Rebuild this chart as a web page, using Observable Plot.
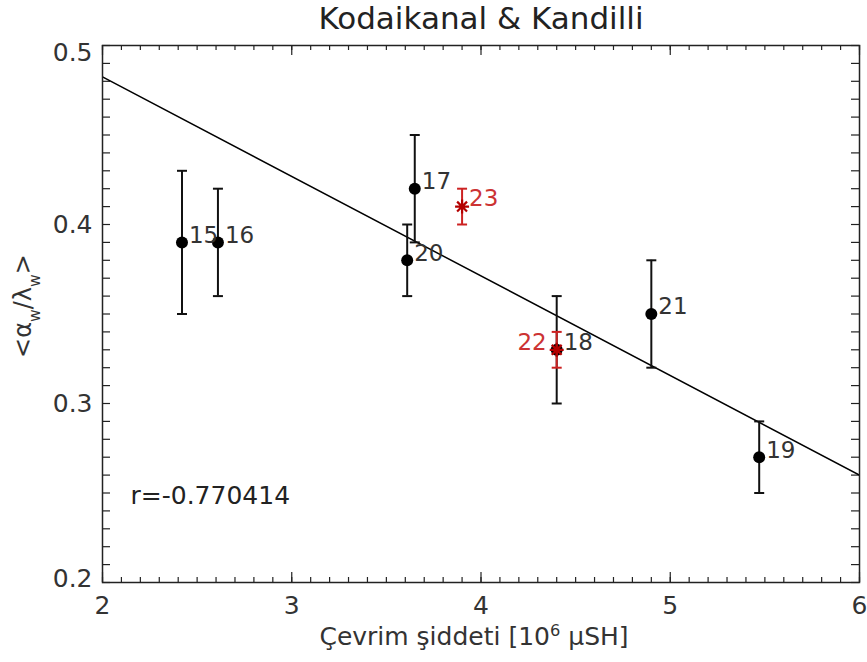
<!DOCTYPE html>
<html>
<head>
<meta charset="utf-8">
<script src="https://cdn.jsdelivr.net/npm/d3@7"></script>
<script src="https://cdn.jsdelivr.net/npm/@observablehq/plot@0.6"></script>
<style>
  html, body { margin: 0; padding: 0; background: #fff; }
  svg { font-family: "DejaVu Sans", sans-serif; }
</style>
</head>
<body>
<div id="chart"></div>
<script>
// ---- data ----
const cycles   = ["15", "16", "17", "18", "19", "20", "21"];
const strength = [2.42, 2.61, 3.65, 4.40, 5.47, 3.61, 4.90];
const ratio    = [0.39, 0.39, 0.42, 0.33, 0.27, 0.38, 0.35];
const errLow   = [0.35, 0.36, 0.39, 0.30, 0.25, 0.36, 0.32];
const errHigh  = [0.43, 0.42, 0.45, 0.36, 0.29, 0.40, 0.38];

const redCycles   = ["22", "23"];
const redStrength = [4.40, 3.90];
const redRatio    = [0.33, 0.41];
const redLow      = [0.32, 0.40];
const redHigh     = [0.34, 0.42];

const fitX = [2, 6];
const fitY = [0.4825, 0.26];

const xTicks = [2, 3, 4, 5, 6];
const yTicks = [0.2, 0.3, 0.4, 0.5];
const titleText = "Kodaikanal & Kandilli";
const xLabel = "Çevrim şiddeti [106 µSH]";
const yLabel = "<αw/λw>";
const rText = "r=-0.770414";

// ---- build ----
const W = 867, H = 662;
const mT = 45, mB = 80, mL = 102, mR = 8;
const innerW = W - mL - mR, innerH = H - mT - mB;
const xDomain = [2, 6], yDomain = [0.2, 0.5];

const black = cycles.map((c, i) => ({c, x: strength[i], y: ratio[i], lo: errLow[i], hi: errHigh[i]}));
const red = redCycles.map((c, i) => ({c, x: redStrength[i], y: redRatio[i], lo: redLow[i], hi: redHigh[i]}));
const fit = fitX.map((x, i) => ({x, y: fitY[i]}));

const xMinor = d3.range(20, 61).map(d => d / 10);
const yMinor = d3.range(20, 51).map(d => d / 100);

const capSymbol = {
  draw(context, size) {
    const r = Math.sqrt(size / Math.PI);
    context.moveTo(-r, 0);
    context.lineTo(r, 0);
  }
};
const starSymbol = {
  draw(context, size) {
    const r = Math.sqrt(size / Math.PI);
    const q = r * Math.SQRT1_2;
    context.moveTo(0, -r); context.lineTo(0, r);
    context.moveTo(-r, 0); context.lineTo(r, 0);
    context.moveTo(-q, -q); context.lineTo(q, q);
    context.moveTo(-q, q); context.lineTo(q, -q);
  }
};

const ink = "#222";
const redMark = "#b40000";
const redText = "#cc3333";
const fsTick = 25, fsLab = 23;

const chart = Plot.plot({
  width: W, height: H,
  marginTop: mT, marginBottom: mB, marginLeft: mL, marginRight: mR,
  style: {fontFamily: "DejaVu Sans, sans-serif", background: "#fff"},
  x: {domain: xDomain, axis: null},
  y: {domain: yDomain, axis: null},
  marks: [
    // ticks
    Plot.tickX(xMinor, {x: d => d, insetTop: innerH - 5, stroke: ink, strokeWidth: 1.2}),
    Plot.tickX(xMinor, {x: d => d, insetBottom: innerH - 5, stroke: ink, strokeWidth: 1.2}),
    Plot.tickX(xTicks, {x: d => d, insetTop: innerH - 10, stroke: ink, strokeWidth: 1.2}),
    Plot.tickX(xTicks, {x: d => d, insetBottom: innerH - 10, stroke: ink, strokeWidth: 1.2}),
    Plot.tickY(yMinor, {y: d => d, insetRight: innerW - 8, stroke: ink, strokeWidth: 1.2}),
    Plot.tickY(yMinor, {y: d => d, insetLeft: innerW - 8, stroke: ink, strokeWidth: 1.2}),
    // tick labels
    Plot.text(xTicks, {x: d => d, frameAnchor: "bottom", dy: 31, text: d => String(d), fontSize: fsTick, fill: "#333"}),
    Plot.text(yTicks.filter(d => d !== yDomain[0] && d !== yDomain[1]), {y: d => d, frameAnchor: "left", dx: -10, textAnchor: "end", text: d => d.toFixed(1), fontSize: fsTick, fill: "#333"}),
    Plot.text(yTicks.filter(d => d === yDomain[1]), {y: d => d, frameAnchor: "left", dx: -10, textAnchor: "end", lineAnchor: "top", dy: -2, text: d => d.toFixed(1), fontSize: fsTick, fill: "#333"}),
    Plot.text(yTicks.filter(d => d === yDomain[0]), {y: d => d, frameAnchor: "left", dx: -10, textAnchor: "end", lineAnchor: "bottom", dy: 4, text: d => d.toFixed(1), fontSize: fsTick, fill: "#333"}),
    // fit line
    Plot.line(fit, {x: "x", y: "y", stroke: "#000", strokeWidth: 1.5, clip: true}),
    // black error bars
    Plot.ruleX(black, {x: "x", y1: "lo", y2: "hi", stroke: "#111", strokeWidth: 2}),
    Plot.dot(black, {x: "x", y: "lo", symbol: capSymbol, r: 5, stroke: "#111", strokeWidth: 2}),
    Plot.dot(black, {x: "x", y: "hi", symbol: capSymbol, r: 5, stroke: "#111", strokeWidth: 2}),
    Plot.dot(black, {x: "x", y: "y", r: 6, fill: "#000", stroke: null}),
    // red error bars
    Plot.ruleX(red, {x: "x", y1: "lo", y2: "hi", stroke: "#cc2222", strokeWidth: 2}),
    Plot.dot(red, {x: "x", y: "lo", symbol: capSymbol, r: 5, stroke: "#cc2222", strokeWidth: 2}),
    Plot.dot(red, {x: "x", y: "hi", symbol: capSymbol, r: 5, stroke: "#cc2222", strokeWidth: 2}),
    Plot.dot(red, {x: "x", y: "y", symbol: starSymbol, r: 7, stroke: redMark, strokeWidth: 2.2}),
    // point labels
    Plot.text(black, {x: "x", y: "y", text: "c", dx: 7, dy: -7, textAnchor: "start", fontSize: fsLab, fill: "#333"}),
    Plot.text(red.filter(d => d.c === "23"), {x: "x", y: "y", text: "c", dx: 7, dy: -8, textAnchor: "start", fontSize: fsLab, fill: redText}),
    Plot.text(red.filter(d => d.c === "22"), {x: "x", y: "y", text: "c", dx: -10, dy: -7, textAnchor: "end", fontSize: fsLab, fill: redText}),
    // correlation
    Plot.text([rText], {frameAnchor: "bottom-left", dx: 28, dy: -79, textAnchor: "start", fontSize: 25, fill: ink}),
    // title and axis labels
    Plot.text([titleText], {frameAnchor: "top", dy: -39, fontSize: 31, fill: ink}),
    Plot.text([xLabel], {frameAnchor: "bottom", dx: -7, dy: 62, fontSize: 25, fill: "#333"}),
    Plot.text([yLabel], {frameAnchor: "left", dx: -79, dy: -8, rotate: -90, textAnchor: "middle", fontSize: 24, fill: "#333"}),
    Plot.frame({stroke: ink, strokeWidth: 1.5})
  ]
});

document.getElementById("chart").appendChild(chart);

// sub/superscripts in the axis labels
function richText(label, parts, shift, size) {
  d3.select(chart).selectAll("text").filter(function () { return this.textContent === label; }).each(function () {
    const t = d3.select(this);
    t.text(null);
    parts.forEach(([s, flag]) => {
      const sp = t.append("tspan").text(s);
      if (flag) sp.attr("baseline-shift", shift).attr("font-size", size);
    });
  });
}
richText(yLabel, [["<α", false], ["w", true], ["/λ", false], ["w", true], [">", false]], "sub", "0.65em");
richText(xLabel, [["Çevrim şiddeti [10", false], ["6", true], [" µSH]", false]], "super", "0.65em");
</script>
</body>
</html>
